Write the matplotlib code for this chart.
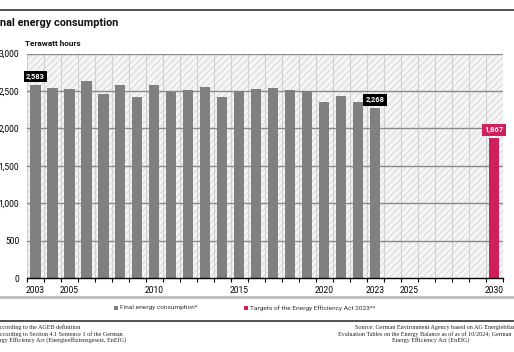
import matplotlib
matplotlib.use("Agg")
import matplotlib.pyplot as plt
from matplotlib.patches import Rectangle
import numpy as np

# ---- data ----
years = list(range(2003, 2024))
consumption = [2583, 2545, 2532, 2634, 2462, 2585, 2420, 2585, 2487, 2509,
               2559, 2420, 2497, 2519, 2540, 2509, 2505, 2349, 2433, 2358, 2268]
target_years = [2030]
target_values = [1867]
xtick_years = [2003, 2005, 2010, 2015, 2020, 2023, 2025, 2030]
ytick_values = [0, 500, 1000, 1500, 2000, 2500, 3000]
ytick_labels = ["0", "500", "1,000", "1,500", "2,000", "2,500", "3,000"]
labelled = {2003: "2,583", 2023: "2,268"}
target_label = "1,867"

GRAY = "#808080"
PINK = "#cf1f5c"
FONT = "Roboto"
SERIF = "Liberation Serif"

W, H = 514, 352
fig = plt.figure(figsize=(W / 100, H / 100), dpi=100)
plt.rcParams["hatch.linewidth"] = 0.6
R = fig.canvas.get_renderer()

def px(x, y):
    return x / W, 1 - y / H

def width_of(text, size, family, weight="normal"):
    t = fig.text(0, 0, text, fontsize=size, family=family, fontweight=weight)
    w = t.get_window_extent(R).width
    t.remove()
    return w

def fit(text, family, weight, target):
    return 10 * target / width_of(text, 10, family, weight)

ax_l, ax_r, ax_t, ax_b = 27, 502.5, 53.5, 278
ax = fig.add_axes([ax_l / W, 1 - ax_b / H, (ax_r - ax_l) / W, (ax_b - ax_t) / H])

ax.set_xlim(2002.5, 2030.5)
ax.set_ylim(0, 3000)

# hatched background
ax.set_facecolor("#f5f5f5")
ax.add_patch(Rectangle((0, 0), 1, 1, transform=ax.transAxes, facecolor="none",
                       edgecolor="#d4d4d4", hatch="/////", linewidth=0, zorder=0))

bounds = np.arange(2002.5, 2031.0, 1.0)
for b in bounds:
    ax.axvline(b, color="#d0d0d0", lw=0.8, zorder=1)
for v in ytick_values[1:]:
    ax.axhline(v, color="#8a8a8a", lw=1.0, zorder=1)

ax.bar(years, consumption, width=0.6, color=GRAY, zorder=2)
ax.bar(target_years, target_values, width=0.6, color=PINK, zorder=2)

vsize = fit("2,583", FONT, "bold", 19)
for yr, lab in labelled.items():
    v = consumption[years.index(yr)]
    ax.annotate(lab, (yr, v), xytext=(0, 3.5), textcoords="offset points",
                ha="center", va="bottom", color="white", fontsize=vsize,
                fontweight="bold", family=FONT, zorder=5,
                bbox=dict(boxstyle="square,pad=0.3", fc="black", ec="none"))
ax.annotate(target_label, (target_years[0], target_values[0]), xytext=(0, 3.5),
            textcoords="offset points", ha="center", va="bottom", color="white",
            fontsize=vsize, fontweight="bold", family=FONT, zorder=5,
            bbox=dict(boxstyle="square,pad=0.3", fc=PINK, ec="none"))

for s in ["left", "right", "top"]:
    ax.spines[s].set_visible(False)
ax.spines["bottom"].set_color("black")
ax.spines["bottom"].set_linewidth(1.0)
ax.spines["bottom"].set_zorder(4)

tsize = fit("2003", FONT, "normal", 19)
ax.set_xticks(xtick_years)
ax.set_xticklabels([str(y) for y in xtick_years], fontsize=tsize, family=FONT)
ax.set_xticks(bounds, minor=True)
ax.tick_params(axis="x", which="major", length=0, pad=6)
ax.tick_params(axis="x", which="minor", length=3, width=0.8, direction="out", color="black")
ax.set_yticks(ytick_values)
ax.set_yticklabels(ytick_labels, fontsize=tsize, family=FONT)
ax.tick_params(axis="y", length=0, pad=5.5)

# header
fig.add_artist(plt.Line2D([0, 1], [1 - 10 / H] * 2, color="#333333", lw=1.2))
title_size = fit("nal energy consumption", FONT, "bold", 118)
fi = width_of("Fi", title_size, FONT, "bold")
fig.text(*px(-fi, 22.5), "Final energy consumption", fontsize=title_size, fontweight="bold",
         family=FONT, va="center", ha="left", color="#111111")
unit_size = fit("Terawatt hours", FONT, "bold", 56)
fig.text(*px(25, 43), "Terawatt hours", fontsize=unit_size, fontweight="bold",
         family=FONT, va="center", ha="left", color="#111111")
fig.add_artist(plt.Line2D([0, 1], [1 - 297 / H] * 2, color="#bdbdbd", lw=2.0))

# legend
lsize = fit("Final energy consumption*", FONT, "normal", 77)
fig.add_artist(Rectangle(px(114, 310), 4 / W, 4 / H, transform=fig.transFigure,
                         facecolor=GRAY, edgecolor="none"))
fig.text(*px(120, 308), "Final energy consumption*", fontsize=lsize, family=FONT,
         va="center", ha="left", color="#333333")
fig.add_artist(Rectangle(px(244, 310), 4 / W, 4 / H, transform=fig.transFigure,
                         facecolor=PINK, edgecolor="none"))
fig.text(*px(250, 308), "Targets of the Energy Efficiency Act 2023**", fontsize=lsize,
         family=FONT, va="center", ha="left", color="#333333")

fig.add_artist(plt.Line2D([0, 1], [1 - 320.5 / H] * 2, color="#333333", lw=1.2))

# footnotes
fsize = fit("ccording to Section 4.1 Sentence 1 of the German", SERIF, "normal", 122)
notes_left = ["* According to the AGEB definition",
              "** According to Section 4.1 Sentence 1 of the German",
              "    Energy Efficiency Act (Energieeffizienzgesetz, EnEfG)"]
hidden = ["* A", "** A", "    Ene"]
for i, (t, h) in enumerate(zip(notes_left, hidden)):
    o = width_of(h, fsize, SERIF)
    fig.text(*px(-o, 327 + i * 6.7), t, fontsize=fsize, family=SERIF, va="center",
             ha="left", color="#222222")
notes_right = ["Source: German Environment Agency based on AG Energiebilanzen",
               "Evaluation Tables on the Energy Balance as of as of 10/2024; German",
               "Energy Efficiency Act (EnEfG)"]
starts_right = [355, 338, 392]
for i, (t, s) in enumerate(zip(notes_right, starts_right)):
    fig.text(*px(s, 327 + i * 6.7), t, fontsize=fsize, family=SERIF, va="center",
             ha="left", color="#222222")

fig.savefig("out.png", dpi=100)
